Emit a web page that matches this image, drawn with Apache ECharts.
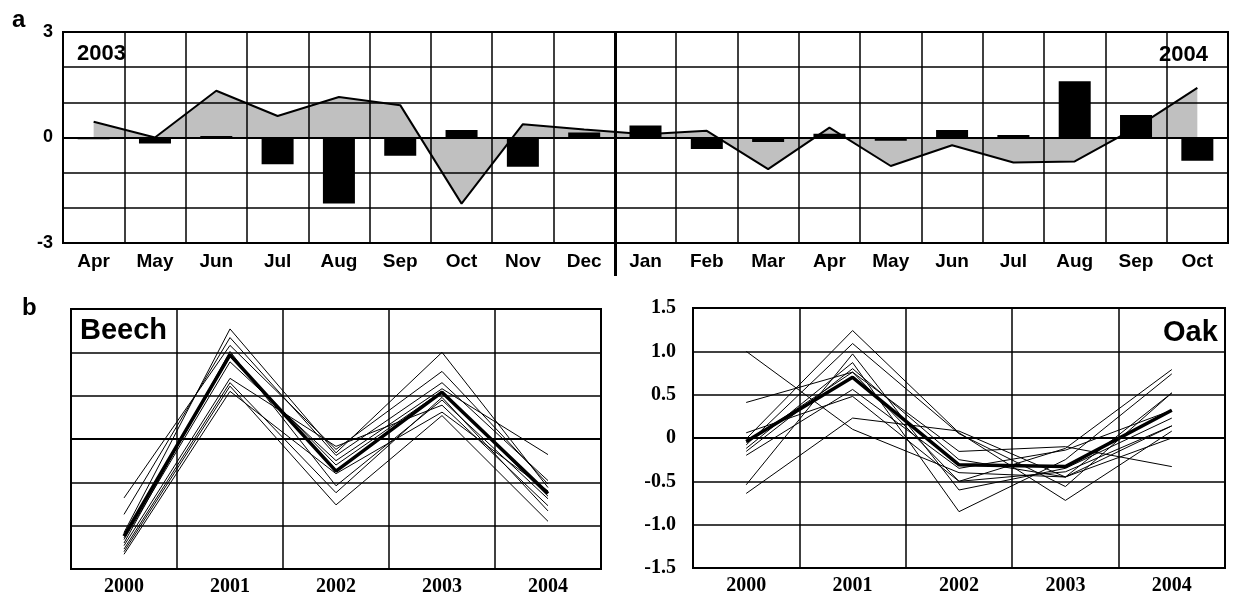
<!DOCTYPE html>
<html><head><meta charset="utf-8">
<script src="https://cdn.jsdelivr.net/npm/echarts@6/dist/echarts.min.js"></script>
<style>html,body{margin:0;padding:0;background:#fff}#c{width:1233px;height:598px}</style>
</head><body><div id="c"></div>
<script>
// ---- Data ----
const months = ['Apr','May','Jun','Jul','Aug','Sep','Oct','Nov','Dec','Jan','Feb','Mar','Apr','May','Jun','Jul','Aug','Sep','Oct'];
const monthBars = [-0.05,-0.17,0.04,-0.76,-1.88,-0.52,0.21,-0.83,0.14,0.34,-0.33,-0.13,0.11,-0.09,0.21,0.07,1.6,0.64,-0.66];
const monthArea = [0.45,0.0,1.33,0.61,1.15,0.92,-1.88,0.38,0.23,0.09,0.19,-0.9,0.28,-0.81,-0.22,-0.71,-0.68,0.28,1.41];
const topTicks = [-3,0,3];
const yearBreakAfter = 8; // Dec 2003 | Jan 2004
const years = ['2000','2001','2002','2003','2004'];
const beechMean = [-1.12,0.97,-0.37,0.54,-0.63];
const beechTrees = [
  [-0.68,1.08,-0.12,0.78,-0.52],
  [-0.87,1.17,-0.19,0.65,-0.48],
  [-1.08,1.27,-0.16,1.0,-0.56],
  [-1.16,0.89,-0.25,0.58,-0.18],
  [-1.2,1.01,-0.54,0.45,-0.69],
  [-1.23,0.7,-0.085,0.39,-0.77],
  [-1.27,0.65,-0.62,0.48,-0.83],
  [-1.3,0.61,-0.76,0.27,-0.95],
  [-1.33,0.55,-0.4,0.31,-0.6],
  [-1.14,0.95,-0.3,0.55,-0.66]
];
const oakMean = [-0.04,0.70,-0.31,-0.33,0.32];
const oakTrees = [
  [1.0,0.1,-0.4,-0.45,0.0],
  [0.41,0.76,-0.155,-0.1,-0.33],
  [-0.64,0.23,0.08,-0.45,0.14],
  [-0.54,0.97,-0.6,-0.35,0.23],
  [0.06,0.48,-0.5,-0.12,0.79],
  [-0.01,1.24,0.06,-0.72,0.08],
  [-0.08,1.09,0.05,-0.56,0.52],
  [-0.12,0.87,-0.85,-0.25,0.74],
  [-0.155,0.80,-0.25,-0.45,0.52],
  [-0.2,0.56,-0.35,-0.14,0.32],
  [-0.05,0.76,-0.5,-0.39,0.14]
];

const SANS = '"Liberation Sans", Arial, sans-serif';
const SERIF = '"Liberation Serif", "Times New Roman", serif';
const gridLine = {show:true, lineStyle:{color:'#000', width:1.5}};

function lineSeries(data, xi, yi, w, z) {
  return {type:'line', xAxisIndex:xi, yAxisIndex:yi, data:data, symbol:'none', silent:true,
    lineStyle:{color:'#000', width:w}, z:z, animation:false};
}

const series = [
  {type:'line', xAxisIndex:0, yAxisIndex:0, data:monthArea, symbol:'none',
   lineStyle:{color:'#000', width:2}, areaStyle:{color:'#c0c0c0', opacity:1, origin:0}, z:1},
  {type:'bar', xAxisIndex:0, yAxisIndex:0, data:monthBars, barWidth:32,
   itemStyle:{color:'#000'}, z:5}
];
beechTrees.forEach(t => series.push(lineSeries(t, 1, 1, 1, 3)));
series.push(lineSeries(beechMean, 1, 1, 3.5, 4));
oakTrees.forEach(t => series.push(lineSeries(t, 2, 2, 1, 3)));
series.push(lineSeries(oakMean, 2, 2, 3.5, 4));

const option = {
  animation:false,
  backgroundColor:'#fff',
  grid:[
    {left:63, top:32, width:1165, height:211, show:true, borderColor:'#000', borderWidth:2, backgroundColor:'transparent'},
    {left:71, top:309, width:530, height:260, show:true, borderColor:'#000', borderWidth:2, backgroundColor:'transparent'},
    {left:693, top:308, width:532, height:260, show:true, borderColor:'#000', borderWidth:2, backgroundColor:'transparent'}
  ],
  xAxis:[
    {type:'category', gridIndex:0, data:months, boundaryGap:true, z:3,
     axisLine:{show:true, lineStyle:{color:'#000', width:2}}, axisTick:{show:false},
     splitLine:{show:true, interval:0, lineStyle:{color:'#000', width:1.5}},
     axisLabel:{interval:0, color:'#000', fontFamily:SANS, fontWeight:'bold', fontSize:19, margin:9}},
    {type:'category', gridIndex:1, data:years, boundaryGap:true, z:2,
     axisLine:{show:true, lineStyle:{color:'#000', width:2}}, axisTick:{show:false},
     splitLine:{show:true, interval:0, lineStyle:{color:'#000', width:1.5}},
     axisLabel:{interval:0, color:'#000', fontFamily:SERIF, fontWeight:'bold', fontSize:20, margin:8}},
    {type:'category', gridIndex:2, data:years, boundaryGap:true, z:2,
     axisLine:{show:true, lineStyle:{color:'#000', width:2}}, axisTick:{show:false},
     splitLine:{show:true, interval:0, lineStyle:{color:'#000', width:1.5}},
     axisLabel:{interval:0, color:'#000', fontFamily:SERIF, fontWeight:'bold', fontSize:20, margin:8}}
  ],
  yAxis:[
    {type:'value', gridIndex:0, min:-3, max:3, interval:1, z:3,
     axisLine:{show:true, lineStyle:{color:'#000', width:2}}, axisTick:{show:false},
     splitLine:gridLine,
     axisLabel:{color:'#000', fontFamily:SANS, fontWeight:'bold', fontSize:18, margin:10,
       formatter: v => topTicks.indexOf(v) >= 0 ? String(v) : ''}},
    {type:'value', gridIndex:1, min:-1.5, max:1.5, interval:0.5, z:2,
     axisLine:{show:true, lineStyle:{color:'#000', width:2}}, axisTick:{show:false},
     splitLine:gridLine, axisLabel:{show:false}},
    {type:'value', gridIndex:2, min:-1.5, max:1.5, interval:0.5, z:2,
     axisLine:{show:true, lineStyle:{color:'#000', width:2}}, axisTick:{show:false},
     splitLine:gridLine,
     axisLabel:{color:'#000', fontFamily:SERIF, fontWeight:'bold', fontSize:20, margin:17,
       formatter: v => v === 0 ? '0' : v.toFixed(1)}}
  ],
  graphic:{elements:[
    {id:'ta', type:'text', left:12, top:8, z:10, style:{text:'a', font:'bold 24px '+SANS, fill:'#000'}},
    {id:'tb', type:'text', left:22, top:296, z:10, style:{text:'b', font:'bold 24px '+SANS, fill:'#000'}},
    {id:'t03', type:'text', left:77, top:43, z:10, style:{text:'2003', font:'bold 22px '+SANS, fill:'#000'}},
    {id:'t04', type:'text', left:1159, top:44, z:10, style:{text:'2004', font:'bold 22px '+SANS, fill:'#000'}},
    {id:'tbe', type:'text', left:80, top:316, z:10, style:{text:'Beech', font:'bold 29px '+SANS, fill:'#000'}},
    {id:'toak', type:'text', left:1163, top:318, z:10, style:{text:'Oak', font:'bold 29px '+SANS, fill:'#000'}}
  ]},
  series: series
};
const chart = echarts.init(document.getElementById('c'), null, {renderer:'canvas'});
chart.setOption(option);

// Year separator between Dec and Jan, placed through the library's scales
const xa = chart.convertToPixel({xAxisIndex:0}, yearBreakAfter);
const xb = chart.convertToPixel({xAxisIndex:0}, yearBreakAfter + 1);
const yTop = chart.convertToPixel({yAxisIndex:0}, 3);
const yBot = chart.convertToPixel({yAxisIndex:0}, -3);
const xs = Math.round((xa + xb) / 2) + 0.5;
chart.setOption({graphic:{elements:[
  {id:'sep', type:'line', z:20, silent:true,
   shape:{x1:xs, y1:yTop, x2:xs, y2:yBot + 33},
   style:{stroke:'#000', lineWidth:3}}
]}});
</script>
</body></html>
